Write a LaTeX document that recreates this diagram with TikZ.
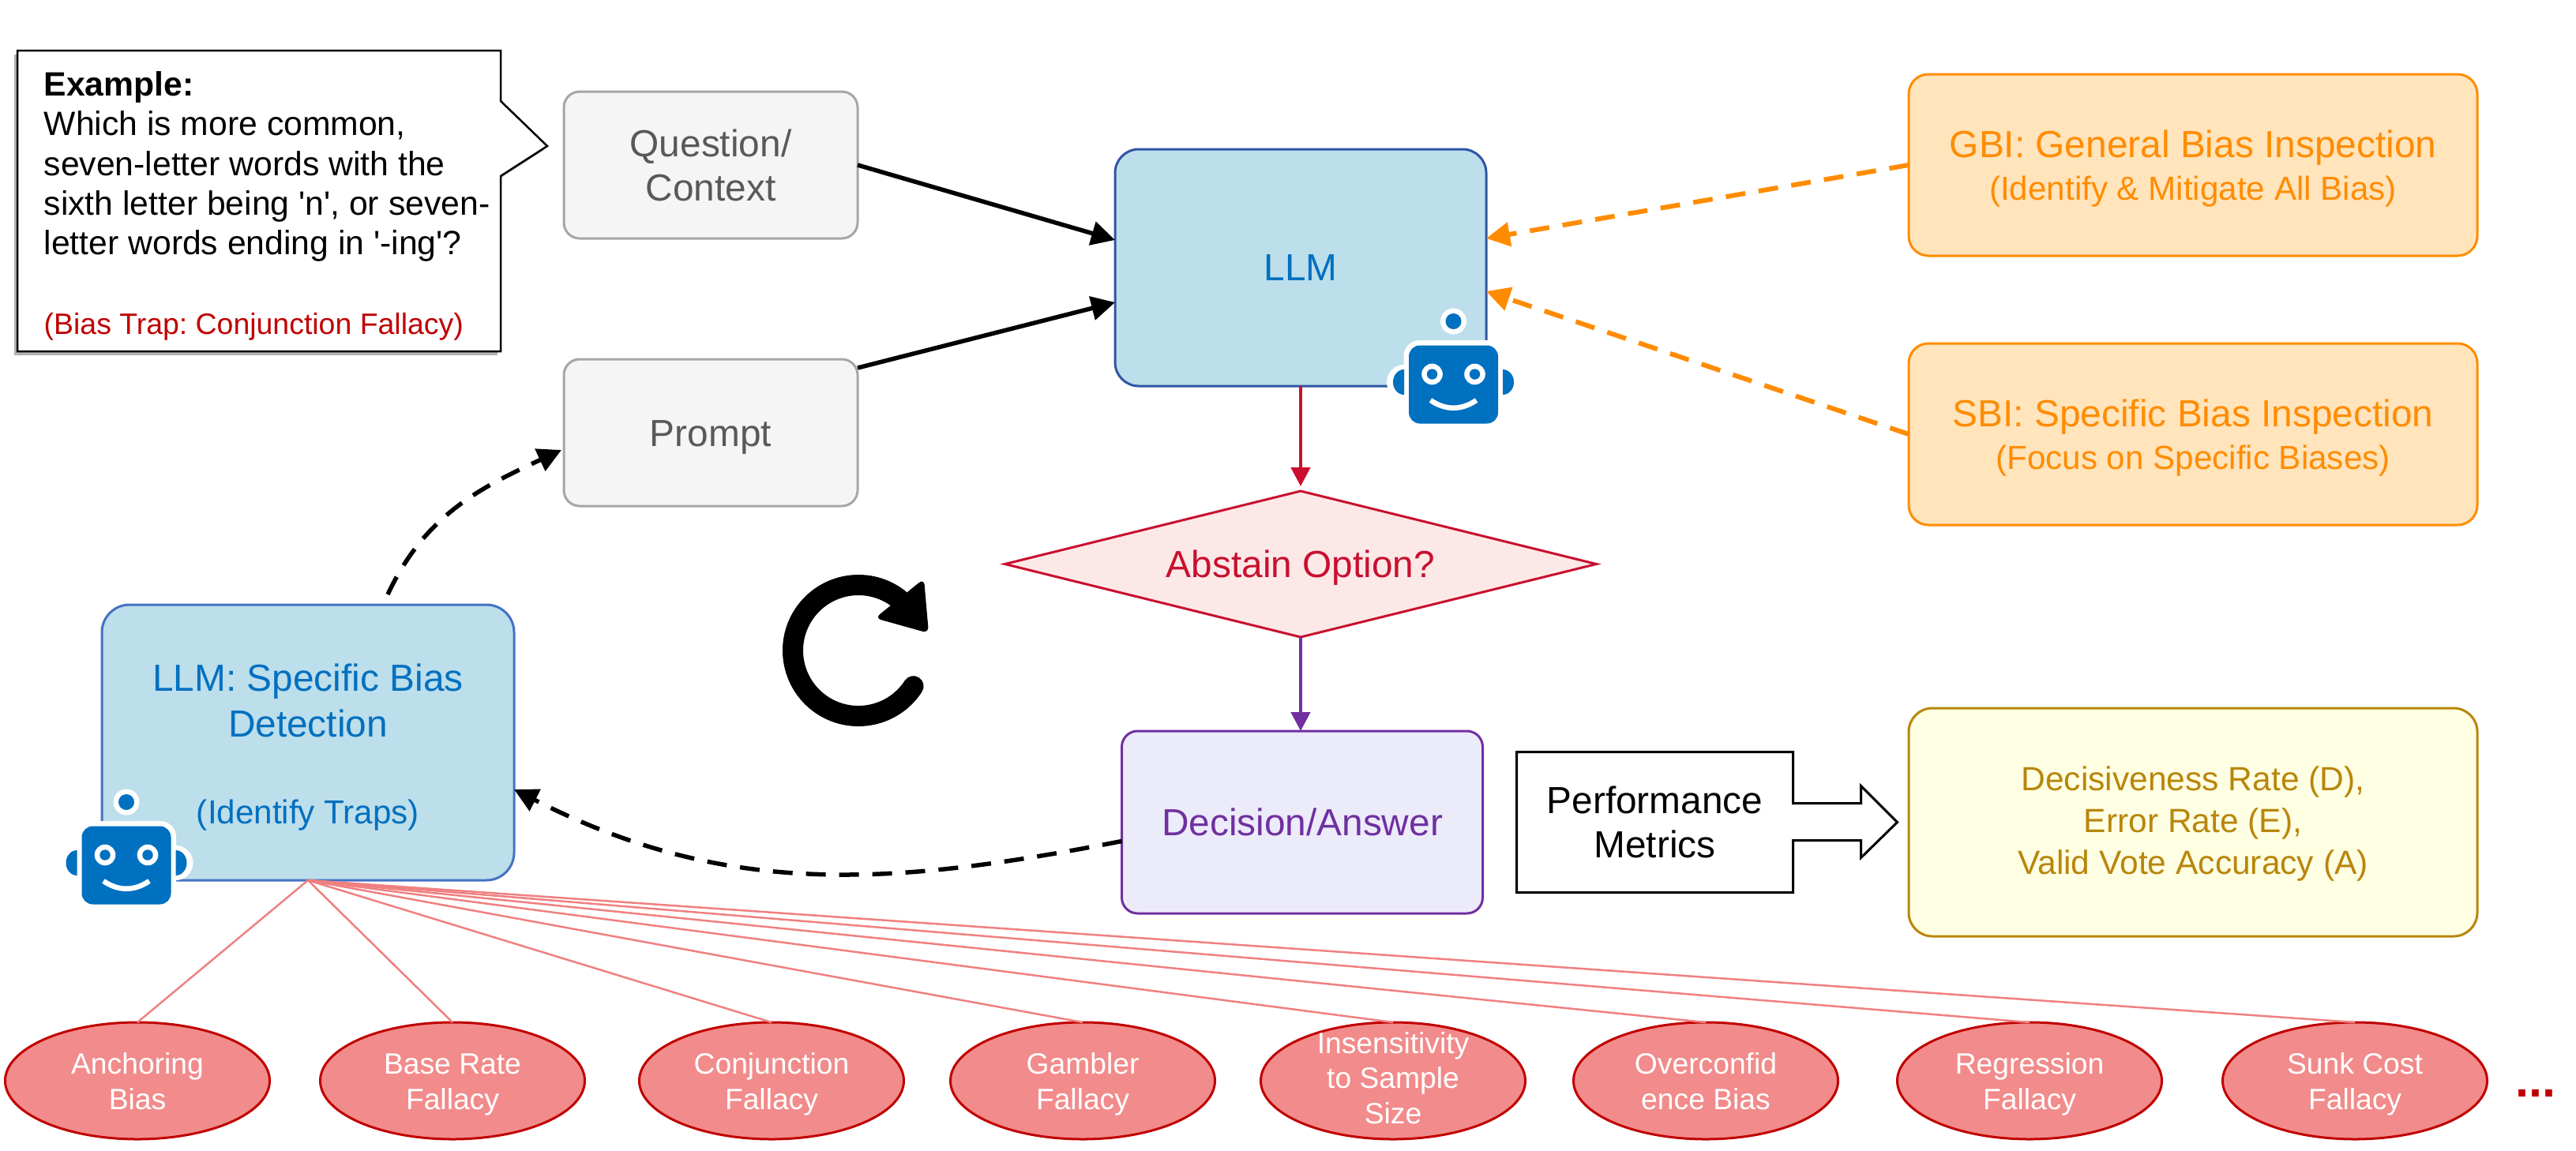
\documentclass[tikz,border=0pt]{standalone}
\usepackage{fontspec}
\setmainfont{Liberation Sans}
\frenchspacing
\usepackage{tikz}
\usetikzlibrary{calc,positioning,arrows.meta,shapes.geometric,shadows}
\definecolor{llmblue}{HTML}{0070C0}
\definecolor{llmfill}{HTML}{BDDEEB}
\definecolor{llmline}{HTML}{2F55A5}
\definecolor{specline}{HTML}{4472C4}
\definecolor{grayline}{HTML}{A6A6A6}
\definecolor{graytext}{HTML}{595959}
\definecolor{grayfill}{HTML}{F5F5F5}
\definecolor{inspect}{HTML}{FF8C00}
\definecolor{inspectfill}{HTML}{FFE4BC}
\definecolor{metricline}{HTML}{B8860B}
\definecolor{metricfill}{HTML}{FFFFE3}
\definecolor{abstain}{HTML}{C8102E}
\definecolor{abstainfill}{HTML}{FDE8E8}
\definecolor{decide}{HTML}{7030A0}
\definecolor{decidefill}{HTML}{ECEBFA}
\definecolor{trapfill}{HTML}{F28B8B}
\definecolor{trapline}{HTML}{C00000}
\definecolor{traplink}{HTML}{F08080}
\newcommand{\bigtxt}{\fontsize{13.6}{15.9}\selectfont}
\newcommand{\midtxt}{\fontsize{12}{15.2}\selectfont}
\newcommand{\traptxt}{\fontsize{10.6}{12.7}\selectfont}
\newcommand{\trapup}{\rule{0pt}{0.36cm}}
\tikzset{pics/robot/.style={code={
  \fill[white] (-.625,.03) circle (.22);
  \fill[white] (.625,.03) circle (.22);
  \fill[white] (0,.80) circle (.165);
  \fill[white,rounded corners=.2cm] (-.63,-.56) rectangle (.63,.56);
  \fill[llmblue] (-.625,.19) arc[start angle=90,end angle=270,x radius=.14,y radius=.16] -- cycle;
  \fill[llmblue] (.625,.19) arc[start angle=90,end angle=-90,x radius=.14,y radius=.16] -- cycle;
  \fill[llmblue] (0,.80) circle (.10);
  \fill[llmblue,rounded corners=.14cm] (-.565,-.495) rectangle (.565,.495);
  \fill[white] (-.27,.13) circle (.133);
  \fill[white] (.27,.13) circle (.133);
  \fill[llmblue] (-.27,.13) circle (.067);
  \fill[llmblue] (.27,.13) circle (.067);
  \draw[white,line width=.065cm] (-.29,-.2) .. controls (-.1,-.33) and (.1,-.33) .. (.29,-.2);
}}}

\begin{document}
\begin{tikzpicture}[node distance=0.5cm,
    box/.style={rectangle,rounded corners=0.2cm,align=center,outer sep=0pt,inner sep=0pt,
                line width=0.03cm,font=\bigtxt},
    inbox/.style={box,draw=grayline,fill=grayfill,text=graytext,minimum width=3.72cm,minimum height=1.86cm},
    llmbox/.style={box,fill=llmfill,text=llmblue,rounded corners=0.3cm},
    sidebox/.style={box,draw=inspect,fill=inspectfill,text=inspect,rounded corners=0.25cm,
                    minimum width=7.2cm,minimum height=2.3cm},
    trap/.style={ellipse,draw=trapline,fill=trapfill,text=white,line width=0.03cm,align=center,
                 minimum width=3.35cm,minimum height=1.48cm,inner sep=0pt,inner ysep=-0.3cm,
                 outer sep=0pt,font=\traptxt},
    solidarrow/.style={-{Triangle[length=0.3cm,width=0.3cm]},line width=0.055cm},
    dasharrow/.style={solidarrow,dash pattern=on 0.25cm off 0.17cm},
    sidearrow/.style={-{Triangle[length=0.3cm,width=0.3cm]},draw=inspect,line width=0.06cm,
                      dash pattern=on 0.25cm off 0.17cm},
    traplinkline/.style={draw=traplink,line width=0.025cm}]
  \useasboundingbox (0,0) rectangle (32.62,-14.57);

  % example callout
  \draw[black,fill=white,line width=0.025cm,
        drop shadow={shadow xshift=-0.04cm,shadow yshift=-0.05cm,opacity=0.3,fill=black}]
    (0.22,-0.64) -- (6.34,-0.64) -- (6.34,-1.28) -- (6.93,-1.85) -- (6.34,-2.23)
    -- (6.34,-4.45) -- (0.22,-4.45) -- cycle;
  \node[anchor=north west,align=left,inner sep=0pt,font=\fontsize{12.15}{14.3}\selectfont] (example) at (0.55,-0.90)
    {\textbf{Example:}\\Which is more common,\\seven-letter words with the\\sixth letter being \textquotesingle n\textquotesingle, or seven-\\letter words ending in \textquotesingle -ing\textquotesingle ?\\[14.3pt]
     \fontsize{10.65}{14.3}\selectfont\color{trapline}(Bias Trap: Conjunction Fallacy)};

  % main column
  \node[llmbox,draw=llmline,minimum width=4.7cm,minimum height=3cm] (llm) at (16.47,-3.39) {LLM};
  \node[diamond,shape aspect=4.05,draw=abstain,fill=abstainfill,text=abstain,line width=0.03cm,minimum width=7.49cm,
        minimum height=1.85cm,inner sep=0pt,outer sep=0pt,font=\bigtxt,text height=0.44cm,below=1.33cm of llm] (abst) {Abstain Option?};
  \node[box,draw=decide,fill=decidefill,text=decide,minimum width=4.57cm,minimum height=2.31cm,
        below=1.19cm of abst,xshift=0.02cm] (dec) {Decision/Answer};

  % inputs
  \node[inbox] (qst) at (9.0,-2.09) {Question/\\Context};
  \node[inbox,text height=0.44cm,below=1.53cm of qst] (prm) {Prompt};

  % inspection boxes
  \node[sidebox] (gbi) at (27.77,-2.09) {\rule{0pt}{0.43cm}GBI: General Bias Inspection\\[-0.6pt]{\midtxt (Identify \& Mitigate All Bias)}};
  \node[sidebox,below=1.11cm of gbi] (sbi) {\rule{0pt}{0.43cm}SBI: Specific Bias Inspection\\[-0.6pt]{\midtxt (Focus on Specific Biases)}};
  \node[box,draw=metricline,fill=metricfill,text=metricline,rounded corners=0.3cm,minimum width=7.2cm,
        minimum height=2.89cm,font=\fontsize{12.1}{15.1}\selectfont,below=2.32cm of sbi] (met)
        {\rule{0pt}{0.35cm}Decisiveness Rate (D),\\Error Rate (E),\\Valid Vote Accuracy (A)};

  % metrics arrow box
  \node[box,rounded corners=0pt,minimum width=3.5cm,minimum height=1.78cm,right=0.43cm of dec] (perf) {Performance\\Metrics};
  \draw[line width=0.03cm] (perf.north east) -- (perf.north west) -- (perf.south west) -- (perf.south east)
    -- ([yshift=-0.23cm]perf.east) -- ([xshift=0.86cm,yshift=-0.23cm]perf.east)
    -- ([xshift=0.86cm,yshift=-0.45cm]perf.east) -- ([xshift=1.32cm]perf.east)
    -- ([xshift=0.86cm,yshift=0.46cm]perf.east) -- ([xshift=0.86cm,yshift=0.24cm]perf.east)
    -- ([yshift=0.24cm]perf.east) -- cycle;

  % bias detection
  \node[llmbox,draw=specline,rounded corners=0.35cm,minimum width=5.22cm,minimum height=3.49cm] (spec) at (3.9,-9.405)
    {\rule{0pt}{0.46cm}LLM: Specific Bias\\[0.6pt]Detection\\[0.54cm]{\midtxt (Identify Traps)}};

  % traps
  \node[trap] (t1) at (1.74,-13.69) {\trapup Anchoring\\Bias\vphantom{y}};
  \node[trap,right=0.64cm of t1] (t2) {\trapup Base Rate\\Fallacy};
  \node[trap,right=0.69cm of t2] (t3) {\trapup Conjunction\\Fallacy};
  \node[trap,right=0.59cm of t3] (t4) {\trapup Gambler\\Fallacy};
  \node[trap,right=0.58cm of t4] (t5) {Insensitivity\\to Sample\\Size\vphantom{y}};
  \node[trap,right=0.61cm of t5] (t6) {\trapup Overconfid\\ence Bias\vphantom{y}};
  \node[trap,right=0.75cm of t6] (t7) {\trapup Regression\\Fallacy};
  \node[trap,right=0.77cm of t7] (t8) {\trapup Sunk Cost\\Fallacy};
  \node[anchor=base west,inner sep=0pt,text=trapline,font=\fontsize{17.4}{18}\selectfont\bfseries] (more) at (31.85,-13.89) {...};

  \draw[traplinkline] (spec.south) -- (t1.north);
  \draw[traplinkline] (spec.south) -- (t2.north);
  \draw[traplinkline] (spec.south) -- (t3.north);
  \draw[traplinkline] (spec.south) -- (t4.north);
  \draw[traplinkline] (spec.south) -- (t5.north);
  \draw[traplinkline] (spec.south) -- (t6.north);
  \draw[traplinkline] (spec.south) -- (t7.north);
  \draw[traplinkline] (spec.south) -- (t8.north);

  % connectors
  \draw[solidarrow] (qst.east) -- ([yshift=0.35cm]llm.west);
  \draw[solidarrow] ([yshift=0.82cm]prm.east) -- ([yshift=-0.44cm]llm.west);
  \draw[sidearrow] (gbi.west) -- ([yshift=0.37cm]llm.east);
  \draw[sidearrow] (sbi.west) -- ([yshift=-0.30cm]llm.east);
  \draw[-{Triangle[length=0.24cm,width=0.24cm]},draw=abstain,line width=0.045cm] (llm.south) -- ([yshift=0.06cm]abst.north);
  \draw[-{Triangle[length=0.24cm,width=0.24cm]},draw=decide,line width=0.045cm] (abst.south) -- ([xshift=-0.02cm]dec.north);
  \draw[dasharrow] ([xshift=1.01cm,yshift=0.13cm]spec.north) to[out=65,in=205] ([xshift=-0.03cm,yshift=-0.22cm]prm.west);
  \draw[dasharrow] ([yshift=-0.24cm]dec.west) to[out=191,in=-27] ([yshift=-0.595cm]spec.east);

  % refresh mark
  \coordinate (loop) at (10.87,-8.24);
  \draw[line width=0.26cm,line cap=round] ([shift={(-33:0.83)}]loop) arc[start angle=-33,end angle=-309,radius=0.83];
  \fill[rounded corners=0.08cm] (11.70,-7.33) -- (11.76,-8.02) -- (11.08,-7.83) -- cycle;

  % robots
  \pic at (18.405,-4.87) {robot};
  \pic at (1.60,-10.96) {robot};
\end{tikzpicture}
\end{document}
